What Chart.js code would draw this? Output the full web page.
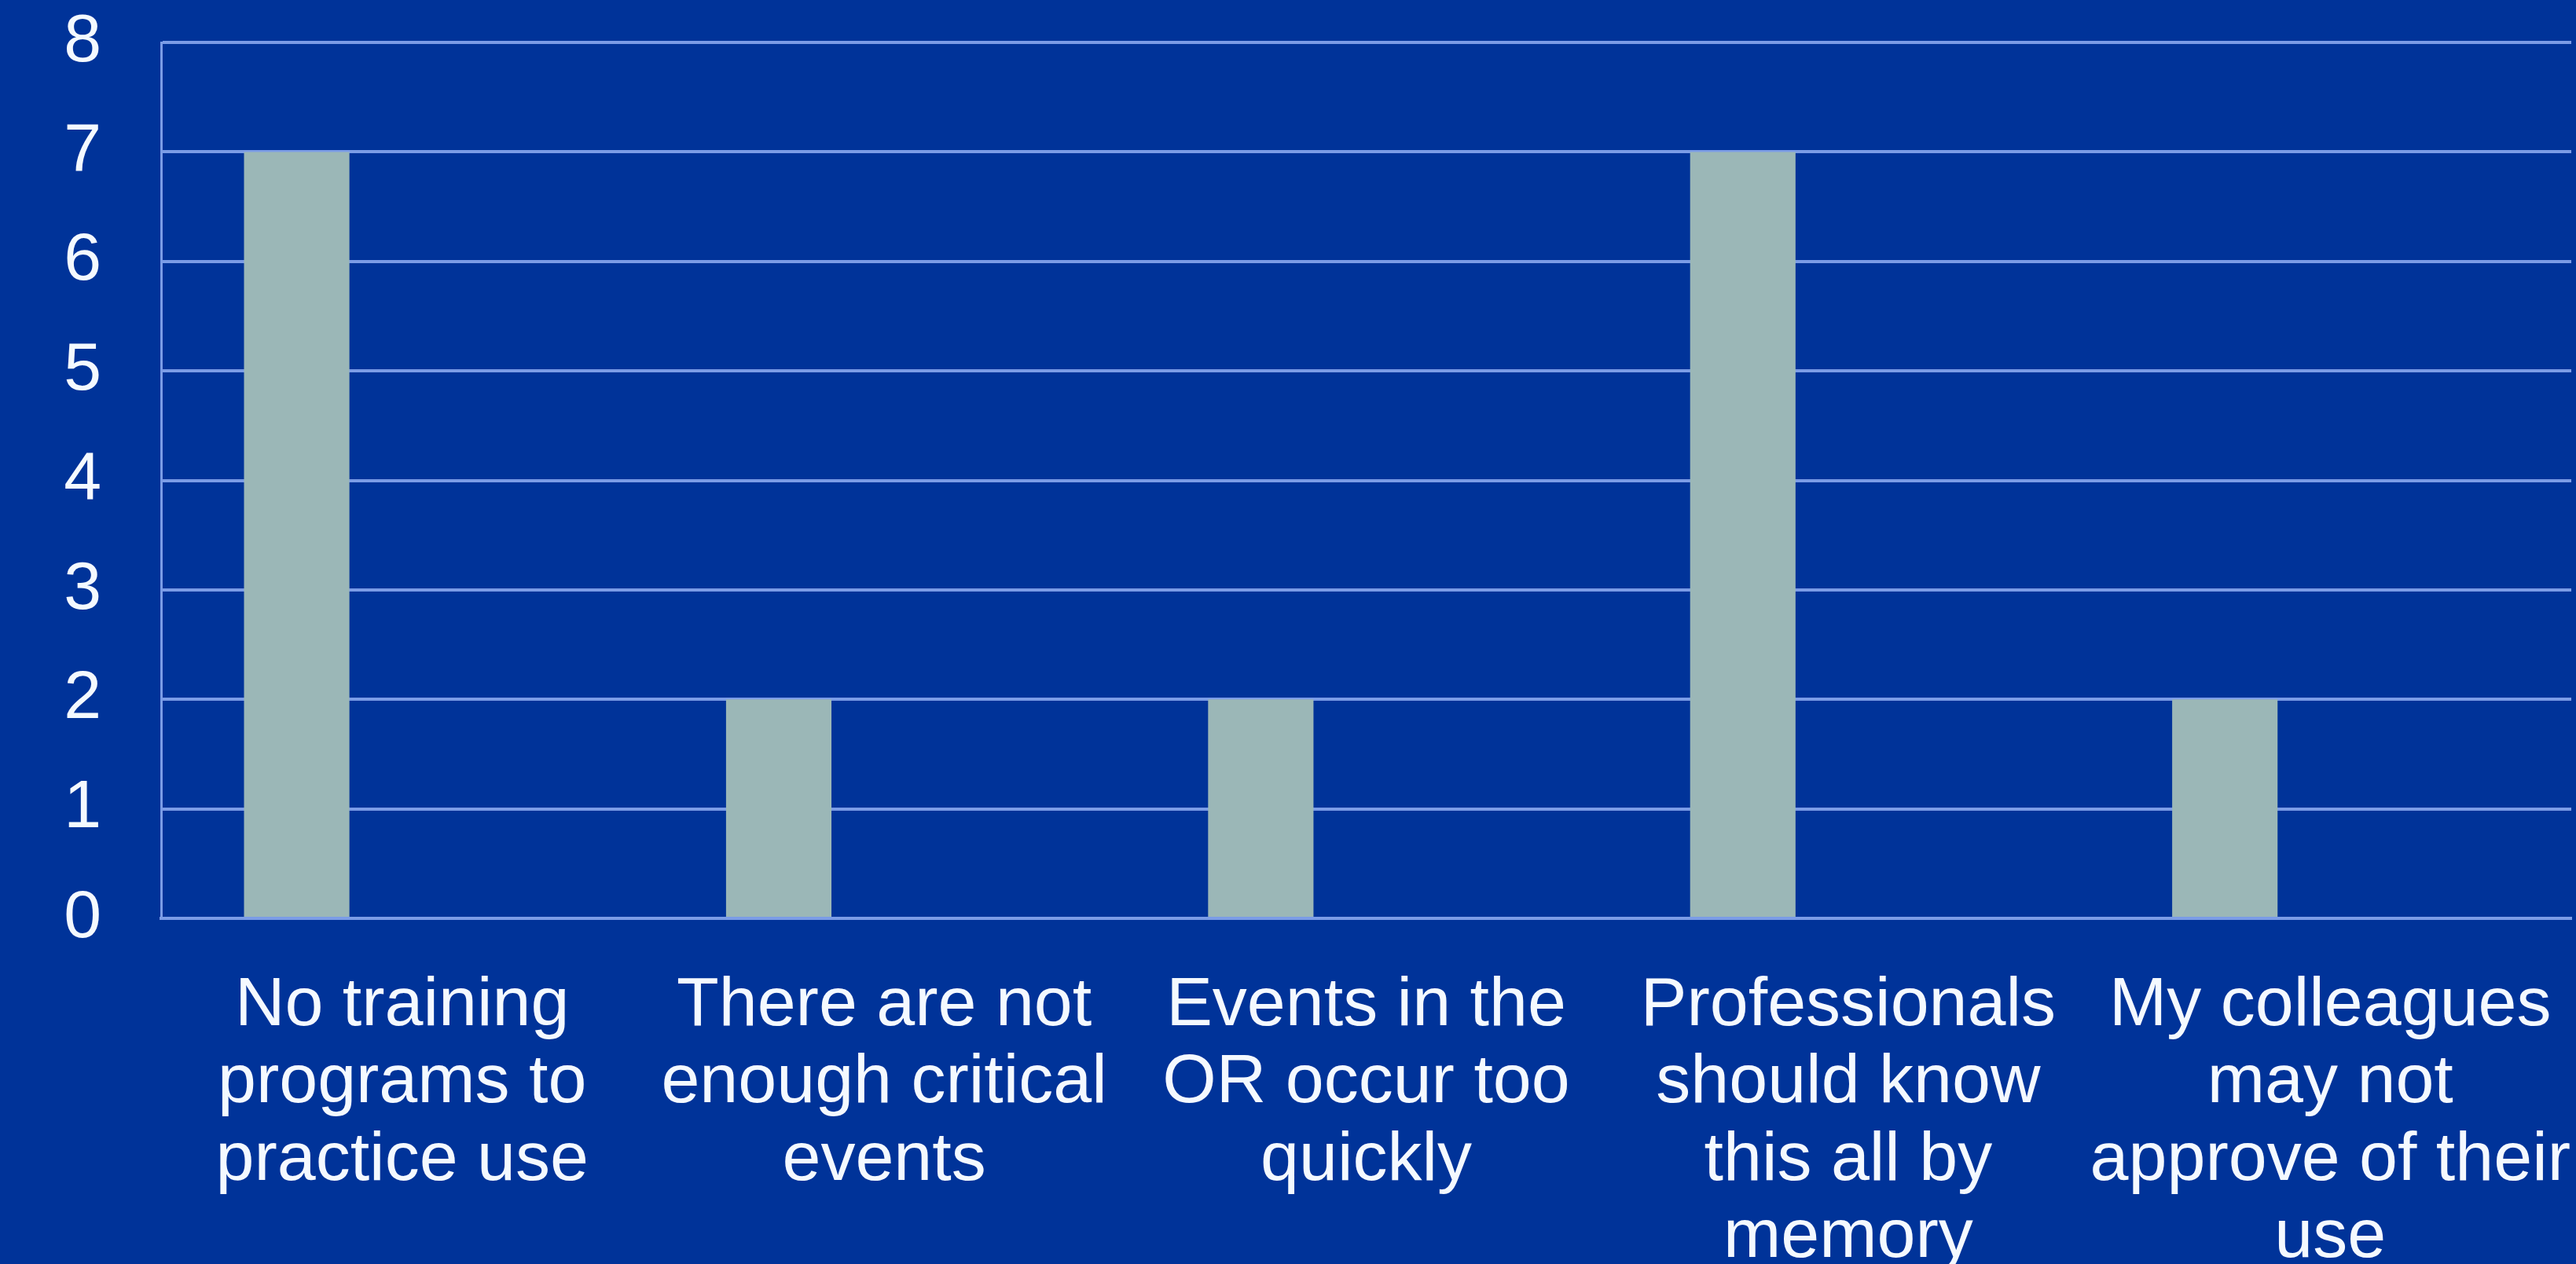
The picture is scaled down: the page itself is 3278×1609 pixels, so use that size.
<!DOCTYPE html>
<html>
<head>
<meta charset="utf-8">
<script src="https://cdn.jsdelivr.net/npm/chart.js@4/dist/chart.umd.min.js"></script>
<style>
  html, body { margin: 0; padding: 0; background: #003399; overflow: hidden; }
  #wrap { width: 3278px; height: 1609px; }
</style>
</head>
<body>
<div id="wrap"><canvas id="c" width="3278" height="1609"></canvas></div>
<script>
// categories (multi-line, as wrapped on the slide)
const categories = [
  ["No training", "programs to", "practice use"],
  ["There are not", "enough critical", "events"],
  ["Events in the", "OR occur too", "quickly"],
  ["Professionals", "should know", "this all by", "memory"],
  ["My colleagues", "may not", "approve of their", "use"]
];
const responses = [7, 2, 2, 7, 2];
// the slide is a 3-series clustered chart, only the first series has values
const emptyA = [null, null, null, null, null];
const emptyB = [null, null, null, null, null];
const yTicks = [0, 1, 2, 3, 4, 5, 6, 7, 8];

const BG = "#003399";
const BAR = "#9bb7b7";
const GRID = "#7b9ce6";
const TEXT = "#f4f9ff";

const bgPlugin = {
  id: "bg",
  beforeDraw(chart) {
    const { ctx, width, height } = chart;
    ctx.save();
    ctx.fillStyle = BG;
    ctx.fillRect(0, 0, width, height);
    ctx.restore();
  }
};

new Chart(document.getElementById("c").getContext("2d"), {
  type: "bar",
  data: {
    labels: categories,
    datasets: [
      { label: "Responses", data: responses, backgroundColor: BAR, borderWidth: 0 },
      { label: "", data: emptyA, backgroundColor: BAR, borderWidth: 0 },
      { label: "", data: emptyB, backgroundColor: BAR, borderWidth: 0 }
    ]
  },
  options: {
    responsive: false,
    animation: false,
    layout: { padding: { top: 54, right: 6, left: 0, bottom: 0 } },
    datasets: {
      bar: { categoryPercentage: 0.656, barPercentage: 1.0 }
    },
    plugins: {
      legend: { display: false },
      tooltip: { enabled: false },
      title: { display: false }
    },
    scales: {
      x: {
        grid: { display: false, drawTicks: false },
        border: { display: true, color: GRID, width: 4 },
        ticks: {
          color: TEXT,
          padding: 62,
          maxRotation: 0,
          autoSkip: false,
          font: { family: "'Liberation Sans', Arial, sans-serif", size: 88, lineHeight: 1.12 }
        },
        afterFit(scale) {
          scale.height = 440;
          scale.paddingLeft = 0;
          scale.paddingRight = 0;
        }
      },
      y: {
        min: 0,
        max: 8,
        afterBuildTicks(scale) { scale.ticks = yTicks.map(v => ({ value: v })); },
        grid: { color: GRID, lineWidth: 4, drawTicks: false },
        border: { display: true, color: GRID, width: 3 },
        ticks: {
          color: TEXT,
          padding: 76,
          font: { family: "'Liberation Sans', Arial, sans-serif", size: 86 }
        },
        afterFit(scale) {
          scale.width = 205;
          scale.paddingTop = 0;
          scale.paddingBottom = 0;
        }
      }
    }
  },
  plugins: [bgPlugin]
});
</script>
</body>
</html>
